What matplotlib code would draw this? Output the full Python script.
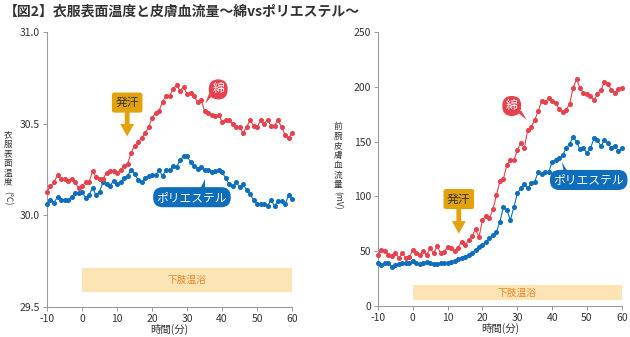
import numpy as np
import matplotlib
matplotlib.use("Agg")
import matplotlib.pyplot as plt
from matplotlib.patches import Polygon, Rectangle

plt.rcParams['font.family'] = ['Noto Sans CJK JP', 'DejaVu Sans']
plt.rcParams['axes.unicode_minus'] = False

# time axis (minutes), one point per minute
minutes = list(range(-10, 61))

# clothing surface temperature (C)
temp_cotton = [30.13, 30.16, 30.18, 30.22, 30.20, 30.20, 30.19, 30.20, 30.18, 30.15,
               30.16, 30.18, 30.18, 30.24, 30.21, 30.20, 30.20, 30.23, 30.24, 30.24,
               30.23, 30.25, 30.27, 30.28, 30.34, 30.38, 30.40, 30.42, 30.45, 30.48,
               30.53, 30.56, 30.57, 30.62, 30.65, 30.65, 30.69, 30.71, 30.68, 30.70,
               30.66, 30.67, 30.65, 30.62, 30.63, 30.57, 30.56, 30.55, 30.54, 30.55,
               30.51, 30.52, 30.52, 30.50, 30.48, 30.48, 30.45, 30.48, 30.52, 30.49,
               30.48, 30.52, 30.50, 30.52, 30.49, 30.49, 30.52, 30.48, 30.44, 30.42,
               30.45]
temp_poly = [30.06, 30.085, 30.07, 30.10, 30.085, 30.085, 30.085, 30.10, 30.12, 30.12,
             30.13, 30.095, 30.11, 30.15, 30.11, 30.13, 30.18, 30.17, 30.16, 30.19,
             30.17, 30.18, 30.205, 30.215, 30.25, 30.225, 30.195, 30.18, 30.205, 30.215,
             30.22, 30.22, 30.245, 30.215, 30.25, 30.245, 30.27, 30.265, 30.30, 30.325,
             30.325, 30.29, 30.27, 30.255, 30.265, 30.245, 30.245, 30.235, 30.24, 30.245,
             30.235, 30.205, 30.17, 30.16, 30.18, 30.155, 30.17, 30.14, 30.115, 30.085,
             30.06, 30.06, 30.06, 30.05, 30.085, 30.05, 30.08, 30.08, 30.06, 30.11,
             30.09]

# forearm skin blood flow (mV)
flow_cotton = [46.6, 51, 50, 46.6, 45.6, 48, 44, 48, 43.6, 44.4,
               51, 48, 46.6, 50.5, 46.6, 52.6, 48, 54.7, 48, 49.5,
               54, 52.6, 50.5, 53.3, 58.7, 55.7, 60, 63.8, 69.9, 63,
               78.4, 82.4, 80, 88.2, 101, 114, 116, 128.6, 133, 133,
               142, 149, 144, 161, 163.6, 169.7, 178, 187, 186, 189.5,
               187, 185, 180, 177, 178.6, 184.6, 198.6, 207.4, 198.6, 194.6,
               193, 192, 188, 193, 197, 204, 203, 197, 194.6, 198,
               198.6]
flow_poly = [39.5, 37.4, 39.5, 39.5, 35.3, 37.4, 38, 39, 39, 39,
             41, 39.5, 38, 39, 40.4, 39, 38, 38, 39, 39.5,
             39.5, 40.4, 41.3, 42.6, 43.6, 45, 46.6, 48.8, 51, 53.6,
             55.7, 58.7, 61.7, 64.8, 67.8, 76.9, 90, 87.6, 78.4, 90,
             102.8, 107.4, 111.3, 107.4, 112, 113.4, 122.6, 120.4, 122, 122,
             131.7, 133, 134.6, 137.6, 143.8, 147.7, 154.4, 149.9, 142.9, 143.8,
             139.8, 143.8, 152.9, 151.4, 145.9, 151.4, 148.3, 144.3, 146, 141.7,
             143.8]

x_ticks = [-10, 0, 10, 20, 30, 40, 50, 60]
temp_ticks = [29.5, 30.0, 30.5, 31.0]
flow_ticks = [0, 50, 100, 150, 200, 250]

RED = '#E5424D'
BLUE = '#0E6EBC'
GOLD = '#E2A20E'
BAND = '#FCE4B4'
BAND_TXT = '#E8862A'
TXT = '#333333'
GREY = '#9A9A9A'

W, H = 630, 337
fig = plt.figure(figsize=(6.3, 3.37), dpi=100)
fig.text(0.006, 0.965, '【図2】衣服表面温度と皮膚血流量〜綿vsポリエステル〜',
         fontsize=10, fontweight='bold', color=TXT, va='center', ha='left')

ax1 = fig.add_axes([0.0746, 0.089, 0.389, 0.816])
ax2 = fig.add_axes([0.600, 0.092, 0.387, 0.813])


def style(ax, ylim, yticks, fmt):
    ax.set_xlim(-10, 60)
    ax.set_ylim(*ylim)
    ax.set_xticks(x_ticks)
    ax.set_yticks(yticks)
    ax.set_yticklabels([fmt.format(v) for v in yticks])
    for s in ['top', 'right']:
        ax.spines[s].set_visible(False)
    for s in ['left', 'bottom']:
        ax.spines[s].set_color(GREY)
        ax.spines[s].set_linewidth(0.8)
    ax.tick_params(colors=GREY, labelcolor=TXT, labelsize=7.5, length=3, width=0.7, pad=2)
    ax.set_xlabel('時間(分)', fontsize=7.5, color=TXT, labelpad=0)
    ax.patch.set_alpha(0)


def series(ax, y, color):
    ax.plot(minutes, y, color=color, lw=0.8, marker='o', ms=2.6, mec=color,
            clip_on=False, zorder=3)


def band(ax, y0, y1):
    ax.add_patch(Rectangle((0, y0), 60, y1 - y0, color=BAND, lw=0, zorder=1))
    ax.text(30, (y0 + y1) / 2, '下肢温浴', color=BAND_TXT, fontsize=7,
            ha='center', va='center', zorder=2)


def callout(ax, x, y, label, color, tail, fs=8.5):
    ax.text(x, y, label, color='white', fontsize=fs, ha='center', va='center',
            zorder=6, bbox=dict(boxstyle='round,pad=0.3,rounding_size=0.8',
                                fc=color, ec='none'))
    ax.add_patch(Polygon(tail, closed=True, fc=color, ec='none', zorder=5))


def sweat(ax, x, y, tip_y):
    ax.annotate('', xy=(x, tip_y), xytext=(x, y), zorder=5,
                arrowprops=dict(arrowstyle='simple,head_length=0.9,head_width=1.0,tail_width=0.35',
                                fc=GOLD, ec='none', shrinkA=0, shrinkB=0))
    ax.text(x, y, '発汗', color=TXT, fontsize=8.5, ha='center', va='center', zorder=6,
            bbox=dict(boxstyle='round,pad=0.3,rounding_size=0.2', fc=GOLD, ec='none'))


def vlabel(px, py0, step, chars, unit, unit_py):
    # vertical (stacked) Japanese axis label, positions in pixels
    for i, c in enumerate(chars):
        fig.text(px / W, 1 - (py0 + i * step) / H, c, fontsize=6.2, color=TXT,
                 ha='center', va='center')
    fig.text(px / W, 1 - unit_py / H, unit, fontsize=6.2, color=TXT,
             rotation=-90, ha='center', va='center')


# left: clothing surface temperature
style(ax1, (29.5, 31.0), temp_ticks, '{:.1f}')
band(ax1, 29.582, 29.714)
series(ax1, temp_poly, BLUE)
series(ax1, temp_cotton, RED)
sweat(ax1, 12.9, 30.615, 30.43)
callout(ax1, 38.9, 30.687, '綿', RED,
        [(36.3, 30.665), (37.8, 30.665), (35.2, 30.61)])
callout(ax1, 31.4, 30.099, 'ポリエステル', BLUE,
        [(33.2, 30.12), (35.1, 30.12), (35.1, 30.198)])
vlabel(8, 135, 9.5, '衣服表面温度', '(℃)', 198)

# right: forearm skin blood flow
style(ax2, (0, 250), flow_ticks, '{:d}')
band(ax2, 5.5, 19.2)
series(ax2, flow_poly, BLUE)
series(ax2, flow_cotton, RED)
sweat(ax2, 13.2, 97.6, 66)
callout(ax2, 28.4, 182.5, '綿', RED,
        [(29.6, 178), (31.2, 178), (32.7, 169.7)])
callout(ax2, 50.5, 115, 'ポリエステル', BLUE,
        [(43.6, 118), (45.3, 118), (42.8, 131.4)])
vlabel(338, 127, 9.6, '前腕皮膚血流量', '(mV)', 200)

fig.savefig('out.png', dpi=100)
